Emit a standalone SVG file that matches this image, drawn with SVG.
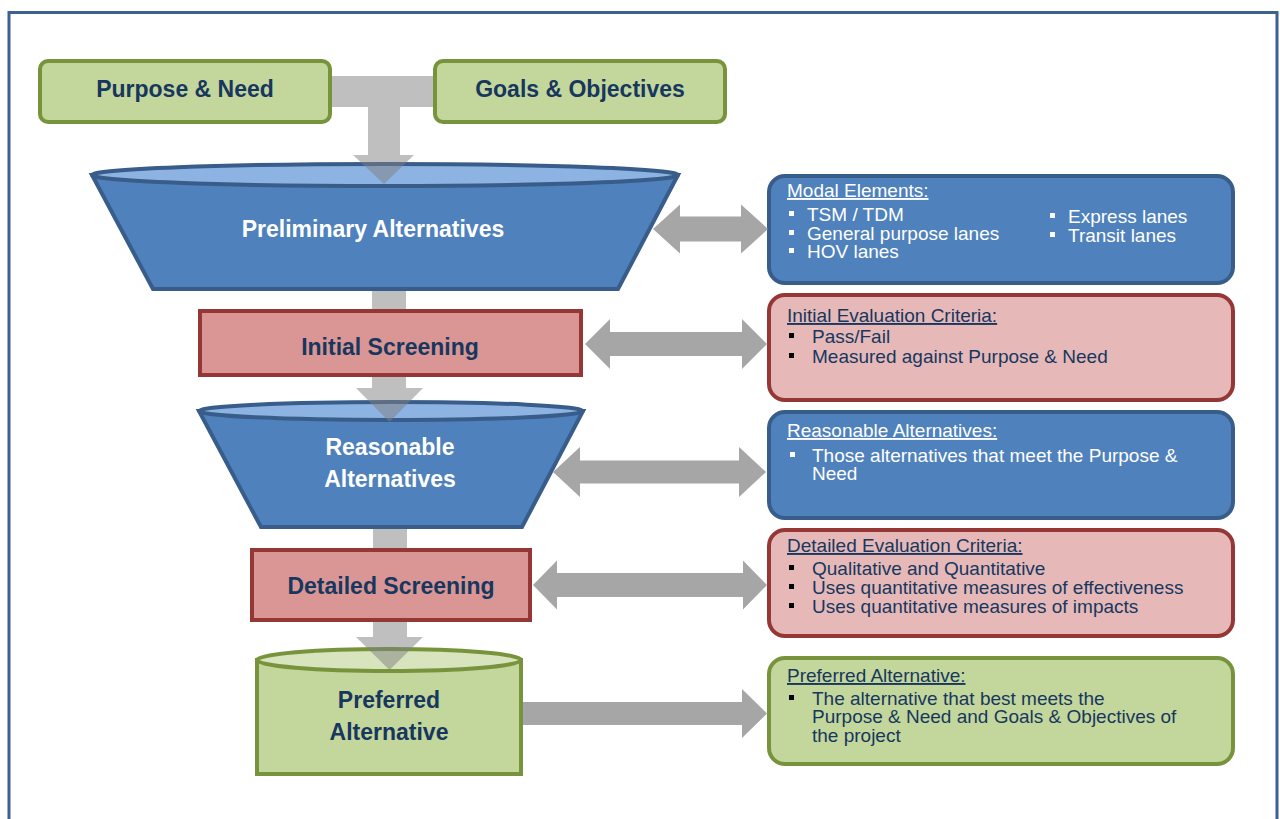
<svg xmlns="http://www.w3.org/2000/svg" width="1280" height="819" viewBox="0 0 1280 819">
<style>
.frame{fill:none;stroke:#3c6090;stroke-width:3}
.green{fill:#c3d69b;stroke:#77933c;stroke-width:4}
.greenTop{fill:#d7e4bd;stroke:#77933c;stroke-width:4}
.blue{fill:#4f81bd;stroke:#385d8a;stroke-width:4}
.blueTop{fill:#8db3e2;stroke:#385d8a;stroke-width:4}
.red{fill:#d99694;stroke:#953735;stroke-width:4}
.pink{fill:#e6b9b8;stroke:#953735;stroke-width:4}
.flow{fill:#808080;fill-opacity:0.5}
.side{fill:#a6a6a6}
.title{font-family:"Liberation Sans",Arial,sans-serif;font-weight:bold;font-size:23px;text-anchor:middle}
.navy{fill:#17375e}
.white{fill:#ffffff}
.body{font-family:"Liberation Sans",Arial,sans-serif;font-size:19px}
.head{text-decoration:underline}
.bw{fill:#ffffff}
.bk{fill:#000000}
</style>
<rect class="frame" x="9" y="12.5" width="1268" height="900"/>

<g id="purpose-need">
<rect class="green" x="40" y="61" width="290" height="61" rx="8"/>
<text class="title navy" x="185" y="97">Purpose &amp; Need</text>
</g>
<g id="goals-objectives">
<rect class="green" x="435" y="61" width="290" height="61" rx="8"/>
<text class="title navy" x="580" y="97">Goals &amp; Objectives</text>
</g>

<g id="preliminary-alternatives">
<path class="blue" d="M92 175 L678 175 L618 289 L153 289 Z"/>
<ellipse class="blueTop" cx="385" cy="175" rx="293" ry="11"/>
<text class="title white" x="373" y="237">Preliminary Alternatives</text>
</g>

<g id="initial-screening">
<rect class="red" x="200" y="311" width="381" height="64"/>
<text class="title navy" x="390" y="355">Initial Screening</text>
</g>

<g id="reasonable-alternatives">
<path class="blue" d="M199 411 L583 411 L522 527 L261 527 Z"/>
<ellipse class="blueTop" cx="391" cy="411" rx="192" ry="9"/>
<text class="title white" x="390" y="455">Reasonable</text>
<text class="title white" x="390" y="487">Alternatives</text>
</g>

<g id="detailed-screening">
<rect class="red" x="252" y="550" width="278" height="70"/>
<text class="title navy" x="391" y="594">Detailed Screening</text>
</g>

<g id="preferred-alternative">
<path class="green" d="M257 660 V774 H521 V660 Z"/>
<ellipse class="greenTop" cx="389" cy="660" rx="132" ry="11"/>
<text class="title navy" x="389" y="708">Preferred</text>
<text class="title navy" x="389" y="740">Alternative</text>
</g>

<g id="modal-elements">
<rect class="blue" x="769" y="176" width="464" height="107" rx="16"/>
<text class="body white head" x="787" y="197">Modal Elements:</text>
<rect class="bw" x="789" y="211" width="5" height="5"/>
<rect class="bw" x="789" y="230" width="5" height="5"/>
<rect class="bw" x="789" y="248" width="5" height="5"/>
<text class="body white" x="807" y="221">TSM / TDM</text>
<text class="body white" x="807" y="240">General purpose lanes</text>
<text class="body white" x="807" y="258">HOV lanes</text>
<rect class="bw" x="1050" y="213" width="5" height="5"/>
<rect class="bw" x="1050" y="232" width="5" height="5"/>
<text class="body white" x="1068" y="223">Express lanes</text>
<text class="body white" x="1068" y="242">Transit lanes</text>
</g>

<g id="initial-evaluation-criteria">
<rect class="pink" x="769" y="295" width="464" height="105" rx="16"/>
<text class="body navy head" x="787" y="322">Initial Evaluation Criteria:</text>
<rect class="bk" x="789" y="333" width="5" height="5"/>
<rect class="bk" x="789" y="353" width="5" height="5"/>
<text class="body navy" x="812" y="343">Pass/Fail</text>
<text class="body navy" x="812" y="363">Measured against Purpose &amp; Need</text>
</g>

<g id="reasonable-alternatives-info">
<rect class="blue" x="769" y="412" width="464" height="106" rx="16"/>
<text class="body white head" x="787" y="437">Reasonable Alternatives:</text>
<rect class="bw" x="790" y="452" width="5" height="5"/>
<text class="body white" x="812" y="462">Those alternatives that meet the Purpose &amp;</text>
<text class="body white" x="812" y="480">Need</text>
</g>

<g id="detailed-evaluation-criteria">
<rect class="pink" x="769" y="530" width="464" height="106" rx="16"/>
<text class="body navy head" x="787" y="552">Detailed Evaluation Criteria:</text>
<rect class="bk" x="789" y="565" width="5" height="5"/>
<rect class="bk" x="789" y="584" width="5" height="5"/>
<rect class="bk" x="789" y="603" width="5" height="5"/>
<text class="body navy" x="812" y="575">Qualitative and Quantitative</text>
<text class="body navy" x="812" y="594">Uses quantitative measures of effectiveness</text>
<text class="body navy" x="812" y="613">Uses quantitative measures of impacts</text>
</g>

<g id="preferred-alternative-info">
<rect class="green" x="769" y="658" width="464" height="106" rx="16"/>
<text class="body navy head" x="787" y="682">Preferred Alternative:</text>
<rect class="bk" x="789" y="695" width="5" height="5"/>
<text class="body navy" x="812" y="705">The alternative that best meets the</text>
<text class="body navy" x="812" y="723">Purpose &amp; Need and Goals &amp; Objectives of</text>
<text class="body navy" x="812" y="742">the project</text>
</g>

<g id="connectors">
<path class="flow" d="M332 76 H433 V107 H400 V155 H414 L384 184 L353 155 H368 V107 H332 Z"/>
<rect class="flow" x="372" y="291" width="34" height="18"/>
<path class="flow" d="M372 377 H406 V388 H423 L389.5 422 L356 388 H372 Z"/>
<rect class="flow" x="373" y="529" width="34" height="19"/>
<path class="flow" d="M373 622 H407 V637 H423 L389.5 670 L356 637 H373 Z"/>
<path class="side" d="M653 229 L680 204.5 L680 216.5 L741 216.5 L741 204.5 L768 229 L741 253.5 L741 241.5 L680 241.5 L680 253.5 Z"/>
<path class="side" d="M585 344 L610 319 L610 332 L742 332 L742 319 L767 344 L742 369 L742 356 L610 356 L610 369 Z"/>
<path class="side" d="M553 472 L580 447 L580 460.5 L739 460.5 L739 447 L766 472 L739 497 L739 483.5 L580 483.5 L580 497 Z"/>
<path class="side" d="M533 585 L557 560.5 L557 573 L743 573 L743 560.5 L767 585 L743 609.5 L743 597 L557 597 L557 609.5 Z"/>
<path class="side" d="M523 702 L742 702 L742 689 L767 713.5 L742 738 L742 725 L523 725 Z"/>
</g>
</svg>
